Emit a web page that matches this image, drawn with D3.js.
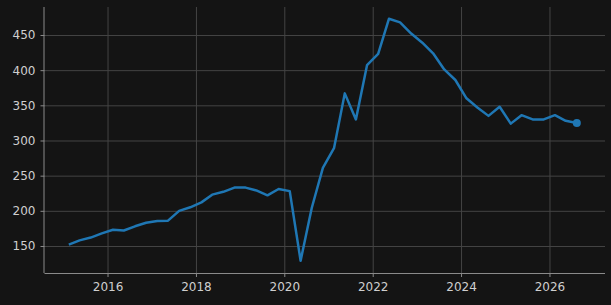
<!DOCTYPE html>
<html>
<head>
<meta charset="utf-8">
<script src="https://cdn.jsdelivr.net/npm/d3@7"></script>
<style>
  body { margin: 0; background: #141414; }
  svg { display: block; }
  .axis text { fill: #cfcfcf; font-family: "DejaVu Sans", sans-serif; font-size: 12px; }
  .axis path, .axis line { stroke: #8a8a8a; }
  .grid line { stroke: #444444; stroke-width: 1; }
  .grid path { display: none; }
</style>
</head>
<body>
<svg id="vis-svg" width="611" height="305"></svg>
<script>

// Quarterly data, first point Feb 2015
var startYear = 2015, startMonth = 1;
var values = [152, 158, 162, 168, 173, 172, 178, 183, 185.5, 186,
              200, 205, 212, 223, 227, 233, 233, 229, 222, 231,
              228, 129, 204, 261, 289, 367, 330, 407, 423, 473,
              468, 452, 439, 424, 401, 386, 360, 347, 335, 348,
              324, 336, 330, 330, 336, 328, 325];
var yTicks = [150, 200, 250, 300, 350, 400, 450];
var xTickYears = [2016, 2018, 2020, 2022, 2024, 2026];

var data = values.map(function(v, i) {
  return { date: new Date(startYear, startMonth + i * 3, 15), value: v };
});

var width = 611, height = 305;
var margin = { top: 7, right: 6, bottom: 32, left: 44.5 };
var innerW = width - margin.left - margin.right;
var innerH = height - margin.top - margin.bottom;

var svg = d3.select('#vis-svg');
svg.append('rect').attr('width', width).attr('height', height).attr('fill', '#141414');

var g = svg.append('g')
  .attr('transform', 'translate(' + margin.left + ',' + margin.top + ')');

// Scales
var x = d3.scaleTime()
  .domain([new Date(2014, 6, 29), new Date(2027, 3, 5)])
  .range([0, innerW]);

var y = d3.scaleLinear()
  .domain([111.6, 489.8])
  .range([innerH, 0]);

var xTicks = xTickYears.map(function(yr) { return new Date(yr, 0, 1); });

// Grid
g.append('g').attr('class', 'grid')
  .call(d3.axisLeft(y).tickValues(yTicks).tickSize(-innerW).tickFormat(''));
g.append('g').attr('class', 'grid')
  .attr('transform', 'translate(0,' + innerH + ')')
  .call(d3.axisBottom(x).tickValues(xTicks).tickSize(-innerH).tickFormat(''));

// Axes
var xAxis = g.append('g').attr('class', 'x axis')
  .attr('transform', 'translate(0,' + innerH + ')')
  .call(d3.axisBottom(x).tickValues(xTicks).tickSize(4).tickPadding(5)
    .tickFormat(d3.timeFormat('%Y')).tickSizeOuter(0));

var yAxis = g.append('g').attr('class', 'y axis')
  .call(d3.axisLeft(y).tickValues(yTicks).tickSize(4).tickPadding(5).tickSizeOuter(0));

xAxis.select('.domain').attr('d', 'M0,0.5H' + innerW);
yAxis.select('.domain').attr('d', 'M-0.5,0V' + innerH);

// Line
var line = d3.line()
  .x(function(d) { return x(d.date); })
  .y(function(d) { return y(d.value); });

g.append('path')
  .attr('d', line(data))
  .attr('fill', 'none')
  .attr('stroke', '#1f77b4')
  .attr('stroke-width', 2.5)
  .attr('stroke-linejoin', 'round');

var last = data[data.length - 1];
g.append('circle')
  .attr('cx', x(last.date))
  .attr('cy', y(last.value))
  .attr('r', 4)
  .attr('fill', '#1f77b4');

</script>
</body>
</html>
